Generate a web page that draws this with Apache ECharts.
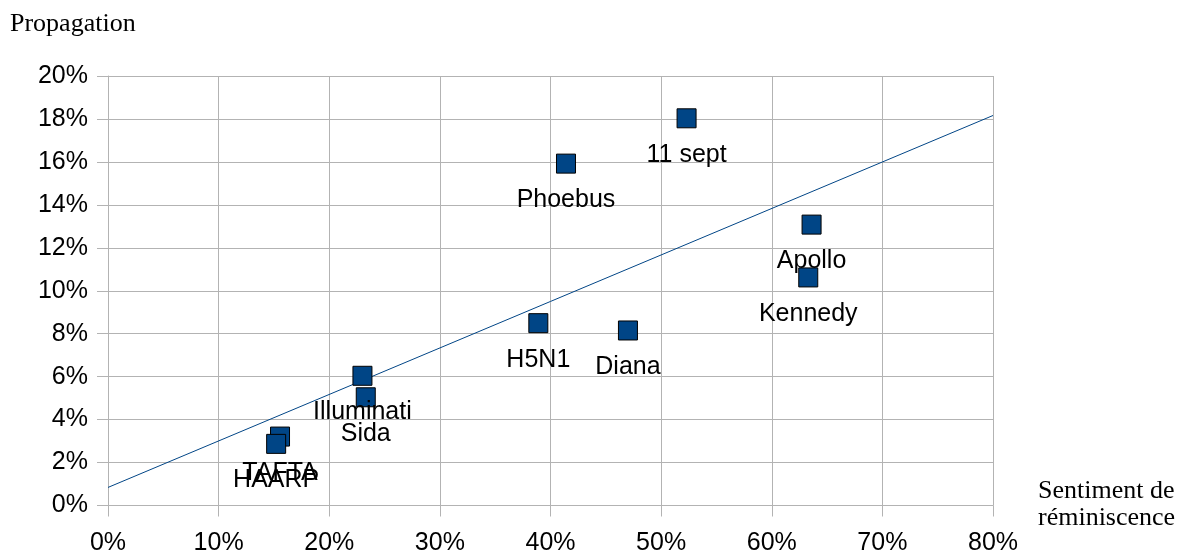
<!DOCTYPE html>
<html>
<head>
<meta charset="utf-8">
<script src="https://cdn.jsdelivr.net/npm/echarts@6/dist/echarts.min.js"></script>
<style>
  html, body { margin: 0; padding: 0; background: #fff; }
  #chart { width: 1179px; height: 554px; }
</style>
</head>
<body>
<div id="chart"></div>
<script>
// values in percent
const names = ['11 sept', 'Phoebus', 'Apollo', 'Kennedy', 'H5N1', 'Diana', 'Illuminati', 'Sida', 'TAFTA', 'HAARP']
const reminiscence = [52.3, 41.4, 63.6, 63.3, 38.9, 47.0, 23.0, 23.3, 15.55, 15.2]
const propagation = [18.03, 15.92, 13.08, 10.62, 8.49, 8.15, 6.04, 5.04, 3.21, 2.87]

// linear trend line (least squares) from the points
const n = reminiscence.length
const mx = reminiscence.reduce((a, b) => a + b, 0) / n
const my = propagation.reduce((a, b) => a + b, 0) / n
let sxy = 0, sxx = 0
for (let i = 0; i < n; i++) {
  sxy += (reminiscence[i] - mx) * (propagation[i] - my)
  sxx += (reminiscence[i] - mx) * (reminiscence[i] - mx)
}
const slope = sxy / sxx
const intercept = my - slope * mx
const trend = [[0, intercept], [80, intercept + slope * 80]]

const points = names.map((nm, i) => ({ name: nm, value: [reminiscence[i], propagation[i]] }))

const gray = '#b3b3b3'
const sans = 'Liberation Sans'

const chart = echarts.init(document.getElementById('chart'))
chart.setOption({
  animation: false,
  grid: { left: 108, right: 186, top: 76, bottom: 48.5, outerBoundsMode: 'none', containLabel: false },
  xAxis: {
    type: 'value', min: 0, max: 80, interval: 10,
    axisLine: { lineStyle: { color: gray } },
    axisTick: { show: true, length: 11, lineStyle: { color: gray } },
    splitLine: { lineStyle: { color: gray } },
    axisLabel: { formatter: '{value}%', color: '#000', fontFamily: sans, fontSize: 25, margin: 25 }
  },
  yAxis: {
    type: 'value', min: 0, max: 20, interval: 2,
    axisLine: { show: true, lineStyle: { color: gray } },
    axisTick: { show: true, length: 11, lineStyle: { color: gray } },
    splitLine: { lineStyle: { color: gray } },
    axisLabel: { formatter: '{value}%', color: '#000', fontFamily: sans, fontSize: 25, margin: 20 }
  },
  graphic: [
    { type: 'text', left: 10, top: 11, style: { text: 'Propagation', font: '26px "Liberation Serif"', fill: '#000' } },
    { type: 'text', left: 1038, top: 478, style: { text: 'Sentiment de\nréminiscence', font: '26px "Liberation Serif"', lineHeight: 27, fill: '#000' } }
  ],
  series: [
    {
      type: 'line',
      data: trend,
      showSymbol: false,
      symbol: 'none',
      z: 1,
      lineStyle: { color: '#004586', width: 1 }
    },
    {
      type: 'scatter',
      data: points,
      symbol: 'rect',
      symbolSize: 19,
      z: 3,
      itemStyle: { color: '#004586', borderColor: '#000', borderWidth: 1, opacity: 1 },
      label: {
        show: true,
        position: 'bottom',
        distance: 14,
        formatter: p => p.name,
        color: '#000',
        fontFamily: sans,
        fontSize: 25,
        lineHeight: 25
      }
    }
  ]
})
</script>
</body>
</html>
